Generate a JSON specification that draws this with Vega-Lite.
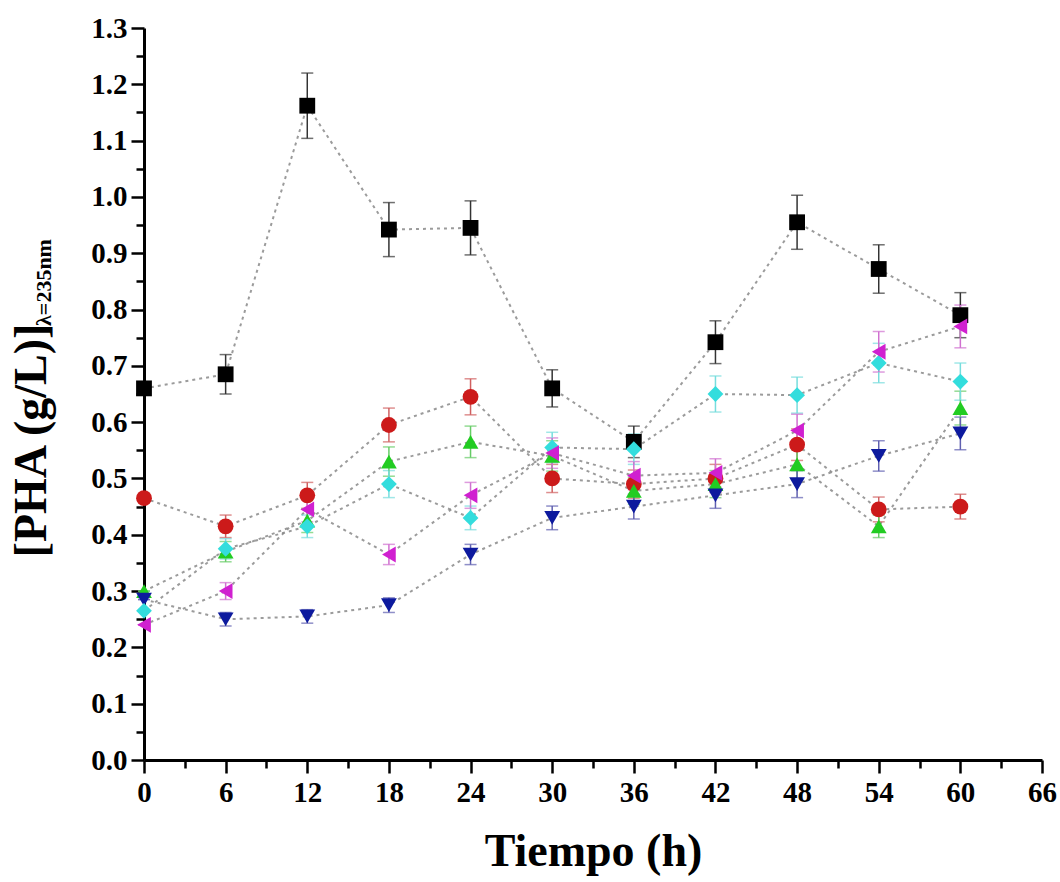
{
  "$schema": "https://vega.github.io/schema/vega-lite/v6.json",
  "width": 898,
  "height": 732,
  "autosize": "none",
  "padding": {"left": 144, "top": 28, "right": 18, "bottom": 122},
  "background": "white",
  "config": {
    "view": {"stroke": null},
    "font": "Liberation Serif"
  },
  "data": {
    "values": [
      {"t": 0, "s": "A", "v": 0.66, "e": 0.0},
      {"t": 6, "s": "A", "v": 0.685, "e": 0.035},
      {"t": 12, "s": "A", "v": 1.162, "e": 0.058},
      {"t": 18, "s": "A", "v": 0.942, "e": 0.048},
      {"t": 24, "s": "A", "v": 0.945, "e": 0.048},
      {"t": 30, "s": "A", "v": 0.66, "e": 0.033},
      {"t": 36, "s": "A", "v": 0.565, "e": 0.028},
      {"t": 42, "s": "A", "v": 0.742, "e": 0.038},
      {"t": 48, "s": "A", "v": 0.955, "e": 0.048},
      {"t": 54, "s": "A", "v": 0.872, "e": 0.043},
      {"t": 60, "s": "A", "v": 0.79, "e": 0.04},
      {"t": 0, "s": "B", "v": 0.465, "e": 0.0},
      {"t": 6, "s": "B", "v": 0.415, "e": 0.02},
      {"t": 12, "s": "B", "v": 0.47, "e": 0.023},
      {"t": 18, "s": "B", "v": 0.595, "e": 0.03},
      {"t": 24, "s": "B", "v": 0.645, "e": 0.032},
      {"t": 30, "s": "B", "v": 0.50, "e": 0.025},
      {"t": 36, "s": "B", "v": 0.49, "e": 0.025},
      {"t": 42, "s": "B", "v": 0.50, "e": 0.025},
      {"t": 48, "s": "B", "v": 0.56, "e": 0.028},
      {"t": 54, "s": "B", "v": 0.445, "e": 0.022},
      {"t": 60, "s": "B", "v": 0.45, "e": 0.022},
      {"t": 0, "s": "C", "v": 0.30, "e": 0.0},
      {"t": 6, "s": "C", "v": 0.37, "e": 0.018},
      {"t": 12, "s": "C", "v": 0.425, "e": 0.021},
      {"t": 18, "s": "C", "v": 0.53, "e": 0.026},
      {"t": 24, "s": "C", "v": 0.565, "e": 0.028},
      {"t": 30, "s": "C", "v": 0.54, "e": 0.027},
      {"t": 36, "s": "C", "v": 0.478, "e": 0.024},
      {"t": 42, "s": "C", "v": 0.49, "e": 0.024},
      {"t": 48, "s": "C", "v": 0.525, "e": 0.026},
      {"t": 54, "s": "C", "v": 0.415, "e": 0.02},
      {"t": 60, "s": "C", "v": 0.625, "e": 0.03},
      {"t": 0, "s": "D", "v": 0.285, "e": 0.0},
      {"t": 6, "s": "D", "v": 0.25, "e": 0.012},
      {"t": 12, "s": "D", "v": 0.255, "e": 0.012},
      {"t": 18, "s": "D", "v": 0.275, "e": 0.013},
      {"t": 24, "s": "D", "v": 0.365, "e": 0.018},
      {"t": 30, "s": "D", "v": 0.43, "e": 0.021},
      {"t": 36, "s": "D", "v": 0.45, "e": 0.022},
      {"t": 42, "s": "D", "v": 0.47, "e": 0.023},
      {"t": 48, "s": "D", "v": 0.49, "e": 0.024},
      {"t": 54, "s": "D", "v": 0.54, "e": 0.027},
      {"t": 60, "s": "D", "v": 0.58, "e": 0.029},
      {"t": 0, "s": "E", "v": 0.265, "e": 0.0},
      {"t": 6, "s": "E", "v": 0.375, "e": 0.018},
      {"t": 12, "s": "E", "v": 0.415, "e": 0.02},
      {"t": 18, "s": "E", "v": 0.49, "e": 0.024},
      {"t": 24, "s": "E", "v": 0.43, "e": 0.021},
      {"t": 30, "s": "E", "v": 0.555, "e": 0.027},
      {"t": 36, "s": "E", "v": 0.552, "e": 0.027},
      {"t": 42, "s": "E", "v": 0.65, "e": 0.032},
      {"t": 48, "s": "E", "v": 0.648, "e": 0.032},
      {"t": 54, "s": "E", "v": 0.705, "e": 0.035},
      {"t": 60, "s": "E", "v": 0.672, "e": 0.033},
      {"t": 0, "s": "F", "v": 0.24, "e": 0.0},
      {"t": 6, "s": "F", "v": 0.30, "e": 0.015},
      {"t": 12, "s": "F", "v": 0.445, "e": 0.022},
      {"t": 18, "s": "F", "v": 0.365, "e": 0.018},
      {"t": 24, "s": "F", "v": 0.47, "e": 0.023},
      {"t": 30, "s": "F", "v": 0.545, "e": 0.027},
      {"t": 36, "s": "F", "v": 0.505, "e": 0.025},
      {"t": 42, "s": "F", "v": 0.51, "e": 0.025},
      {"t": 48, "s": "F", "v": 0.585, "e": 0.029},
      {"t": 54, "s": "F", "v": 0.725, "e": 0.036},
      {"t": 60, "s": "F", "v": 0.77, "e": 0.038}
    ]
  },
  "encoding": {
    "x": {
      "field": "t", "type": "quantitative",
      "scale": {"domain": [0, 66], "nice": false, "zero": false},
      "axis": {
        "title": "Tiempo (h)",
        "values": [0,3,6,9,12,15,18,21,24,27,30,33,36,39,42,45,48,51,54,57,60,63,66],
        "labelExpr": "datum.value % 6 === 0 ? datum.label : ''",
        "grid": false,
        "domainColor": "black", "domainWidth": 3,
        "tickColor": "black", "tickWidth": 2.5,
        "tickSize": {"condition": {"test": "datum.value % 6 === 0", "value": 13}, "value": 8},
        "labelFont": "Liberation Serif", "labelFontWeight": "bold", "labelFontSize": 29, "labelColor": "black",
        "labelPadding": 5, "labelFlush": false, "labelOverlap": false,
        "titleFont": "Liberation Serif", "titleFontWeight": "bold", "titleFontSize": 46, "titleColor": "black",
        "titlePadding": 22
      }
    }
  },
  "resolve": {"scale": {"color": "independent"}, "axis": {"y": "independent"}},
  "layer": [
    {
      "mark": {"type": "line", "strokeDash": [3, 4], "strokeWidth": 2, "color": "#8a8a8a", "opacity": 0.85},
      "encoding": {
        "detail": {"field": "s"},
        "y": {
          "field": "v", "type": "quantitative",
          "scale": {"domain": [0, 1.3], "nice": false, "zero": false},
          "axis": {
            "orient": "left",
            "title": "[PHA (g/L)]",
            "values": [0,0.05,0.1,0.15,0.2,0.25,0.3,0.35,0.4,0.45,0.5,0.55,0.6,0.65,0.7,0.75,0.8,0.85,0.9,0.95,1.0,1.05,1.1,1.15,1.2,1.25,1.3],
            "format": ".1f",
            "labelExpr": "round(datum.value*100) % 10 === 0 ? datum.label : ''",
            "grid": false,
            "domainColor": "black", "domainWidth": 3,
            "tickColor": "black", "tickWidth": 2.5,
            "tickSize": {"condition": {"test": "round(datum.value*100) % 10 === 0", "value": 13}, "value": 8},
            "labelFont": "Liberation Serif", "labelFontWeight": "bold", "labelFontSize": 29, "labelColor": "black",
            "labelPadding": 4, "labelFlush": false, "labelOverlap": false,
            "titleFont": "Liberation Serif", "titleFontWeight": "bold", "titleFontSize": 46, "titleColor": "black",
            "titleAngle": 270, "titleAlign": "center", "titleBaseline": "alphabetic",
            "titleX": -99, "titleY": 412
          }
        }
      }
    },
    {
      "mark": {"type": "errorbar", "ticks": {"size": 12}, "thickness": 1.5},
      "encoding": {
        "y": {"field": "v", "type": "quantitative", "axis": null},
        "yError": {"field": "e"},
        "color": {"field": "s", "type": "nominal", "legend": null,
          "scale": {"domain": ["A","B","C","D","E","F"], "range": ["#333333","#d06060","#66cc66","#6060b0","#77dddd","#d070d0"]}}
      }
    },
    {
      "mark": {"type": "point", "filled": true, "opacity": 1, "size": 250},
      "encoding": {
        "y": {
          "field": "v", "type": "quantitative",
          "axis": {
            "orient": "left",
            "title": "λ=235nm",
            "domain": false, "ticks": false, "labels": false, "grid": false,
            "titleFont": "Liberation Serif", "titleFontWeight": "bold", "titleFontSize": 22, "titleColor": "black",
            "titleAngle": 270, "titleAlign": "center", "titleBaseline": "alphabetic",
            "titleX": -94, "titleY": 254
          }
        },
        "color": {"field": "s", "type": "nominal", "legend": null,
          "scale": {"domain": ["A","B","C","D","E","F"], "range": ["#000000","#cc1a1a","#22cc22","#0d1a9e","#33dddd","#d020d0"]}},
        "shape": {"field": "s", "type": "nominal", "legend": null,
          "scale": {"domain": ["A","B","C","D","E","F"], "range": ["square","circle","triangle-up","triangle-down","diamond","triangle-left"]}}
      }
    }
  ]
}
